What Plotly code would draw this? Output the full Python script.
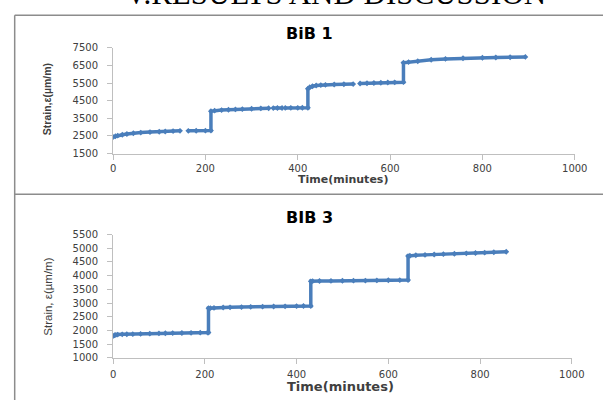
import plotly.graph_objects as go

# ---- BiB 1 : strain vs time (None marks breaks in the record) ----
bib1_time = [0, 5, 10, 20, 30, 44, 60, 80, 100, 113, 130, 145, None,
             163, 180, 200, 212,
             212, 220, 235, 250, 265, 280, 300, 320, 337, None,
             347, 356, 366, None,
             373, 385, 400, 410, 422,
             422, 426, 432, 440, 450, 460, 479, 500, 520, None,
             535, 550, 565, 580, 595, 610, 629,
             629, 640, 660, 689, 720, 758, 800, 829, 860, 893]
bib1_strain = [2440, 2480, 2520, 2570, 2610, 2655, 2690, 2720, 2740, 2753, 2775, 2790, None,
               2790, 2795, 2800, 2805,
               3900, 3940, 3965, 3985, 4005, 4020, 4040, 4060, 4070, None,
               4080, 4083, 4085, None,
               4090, 4093, 4095, 4097, 4100,
               5180, 5260, 5320, 5360, 5385, 5400, 5420, 5432, 5441, None,
               5475, 5490, 5505, 5520, 5530, 5540, 5550,
               6650, 6690, 6740, 6820, 6870, 6910, 6935, 6948, 6965, 6985]

# ---- BIB 3 : strain vs time ----
bib3_time = [0, 3, 6, 10, 20, 30, 43, 60, 80, 100, 114, 130, 150, 170, 190, 206, 208,
             208, 212, 220, 240, 255, 280, 300, 326, 350, 375, 400, 415, 431,
             431, 435, 450, 475, 500, 524, 550, 575, 600, 625, 643,
             643, 647, 660, 680, 700, 720, 744, 770, 790, 810, 830, 857]
bib3_strain = [1800, 1825, 1840, 1850, 1858, 1862, 1866, 1875, 1885, 1893, 1900, 1905, 1910, 1915, 1920, 1923, 1925,
               2810, 2815, 2825, 2838, 2846, 2855, 2862, 2870, 2876, 2882, 2888, 2892, 2895,
               3795, 3800, 3805, 3810, 3815, 3818, 3822, 3827, 3832, 3836, 3840,
               4717, 4730, 4745, 4760, 4775, 4787, 4800, 4815, 4828, 4840, 4855, 4875]

x_ticks = [0, 200, 400, 600, 800, 1000]
y1_ticks = [1500, 2500, 3500, 4500, 5500, 6500, 7500]
y3_ticks = [1000, 1500, 2000, 2500, 3000, 3500, 4000, 4500, 5000, 5500]

W, H = 616, 406
BLUE = "#4A7EBB"
AXIS = "#BFBFBF"
TXT = "#404040"
TICKFONT = dict(family="DejaVu Sans, Verdana, sans-serif", size=10, color=TXT)


def px(xp, yp):
    """pixel position -> paper coordinates"""
    return xp / W, 1 - yp / H


fig = go.Figure()
fig.add_trace(go.Scatter(x=bib1_time, y=bib1_strain, mode="lines+markers",
                         line=dict(color=BLUE, width=3.5),
                         marker=dict(symbol="diamond", size=4.5, color=BLUE),
                         xaxis="x", yaxis="y", showlegend=False))
fig.add_trace(go.Scatter(x=bib3_time, y=bib3_strain, mode="lines+markers",
                         line=dict(color=BLUE, width=3.5),
                         marker=dict(symbol="diamond", size=4.5, color=BLUE),
                         xaxis="x2", yaxis="y2", showlegend=False))

axis_common = dict(showgrid=False, zeroline=False, showline=True, linecolor=AXIS,
                   linewidth=1, ticks="outside", ticklen=5, tickcolor=AXIS,
                   tickfont=TICKFONT, tickmode="array", fixedrange=True)

fig.update_layout(
    width=W, height=H,
    margin=dict(l=0, r=0, t=0, b=0),
    paper_bgcolor="white", plot_bgcolor="white",
    xaxis=dict(domain=[113 / W, 587 / W], range=[0, 1000], anchor="y",
               tickvals=x_ticks, ticktext=[str(v) for v in x_ticks], **axis_common),
    yaxis=dict(domain=[1 - 152.7 / H, 1 - 44 / H], range=[1500, 7500], anchor="x",
               tickvals=y1_ticks, ticktext=[str(v) for v in y1_ticks],
               ticklabelstandoff=7, **axis_common),
    xaxis2=dict(domain=[113 / W, 584 / W], range=[0, 1000], anchor="y2",
                tickvals=x_ticks, ticktext=[str(v) for v in x_ticks],
                ticklabelstandoff=2, **axis_common),
    yaxis2=dict(domain=[1 - 362.7 / H, 1 - 236 / H], range=[1000, 5500], anchor="x2",
                tickvals=y3_ticks, ticktext=[str(v) for v in y3_ticks],
                ticklabelstandoff=7, **axis_common),
)

ann = []


def label(text, xp, yp, size, family, bold=True, angle=0, color="black",
          xanchor="center", yanchor="middle"):
    x, y = px(xp, yp)
    ann.append(dict(text=f"<b>{text}</b>" if bold else text, x=x, y=y,
                    xref="paper", yref="paper", showarrow=False, textangle=angle,
                    xanchor=xanchor, yanchor=yanchor,
                    font=dict(size=size, family=family, color=color)))


SANS = "DejaVu Sans, Verdana, sans-serif"
NARROW = "Liberation Sans Narrow, Arial Narrow, sans-serif"

# section heading, partly above the page edge
label("V.RESULTS AND DISCUSSION", 341, 8, 31, "Liberation Serif, Times New Roman, serif",
      bold=False, yanchor="bottom")

# chart titles
label("BiB 1", 315, 29, 16, SANS)
label("BIB 3", 315, 218, 16, SANS)

# axis titles
label("Strain,ε(µm/m)", 46, 97, 10.5, NARROW, angle=-90, color=TXT)
label("Time(minutes)", 349, 179, 11, SANS, color=TXT)
label("Strain, ε(µm/m)", 46, 300, 11.5, NARROW, bold=False, angle=-90, color=TXT)
label("Time(minutes)", 347, 392, 13, SANS, color=TXT)

fig.update_layout(annotations=ann)

# frame lines around the two chart boxes
BORDER = "#8C8C8C"
shapes = [
    dict(type="line", xref="paper", yref="paper", x0=12 / W, x1=12 / W, y0=0, y1=1 - 10.5 / H,
         line=dict(color=BORDER, width=1.5)),
    dict(type="line", xref="paper", yref="paper", x0=12 / W, x1=1, y0=1 - 10.5 / H, y1=1 - 10.5 / H,
         line=dict(color=BORDER, width=1.5)),
    dict(type="line", xref="paper", yref="paper", x0=12 / W, x1=1, y0=1 - 194.5 / H, y1=1 - 194.5 / H,
         line=dict(color=BORDER, width=1.5)),
]
fig.update_layout(shapes=shapes)

fig.write_html("out.html", config={"displayModeBar": False})
